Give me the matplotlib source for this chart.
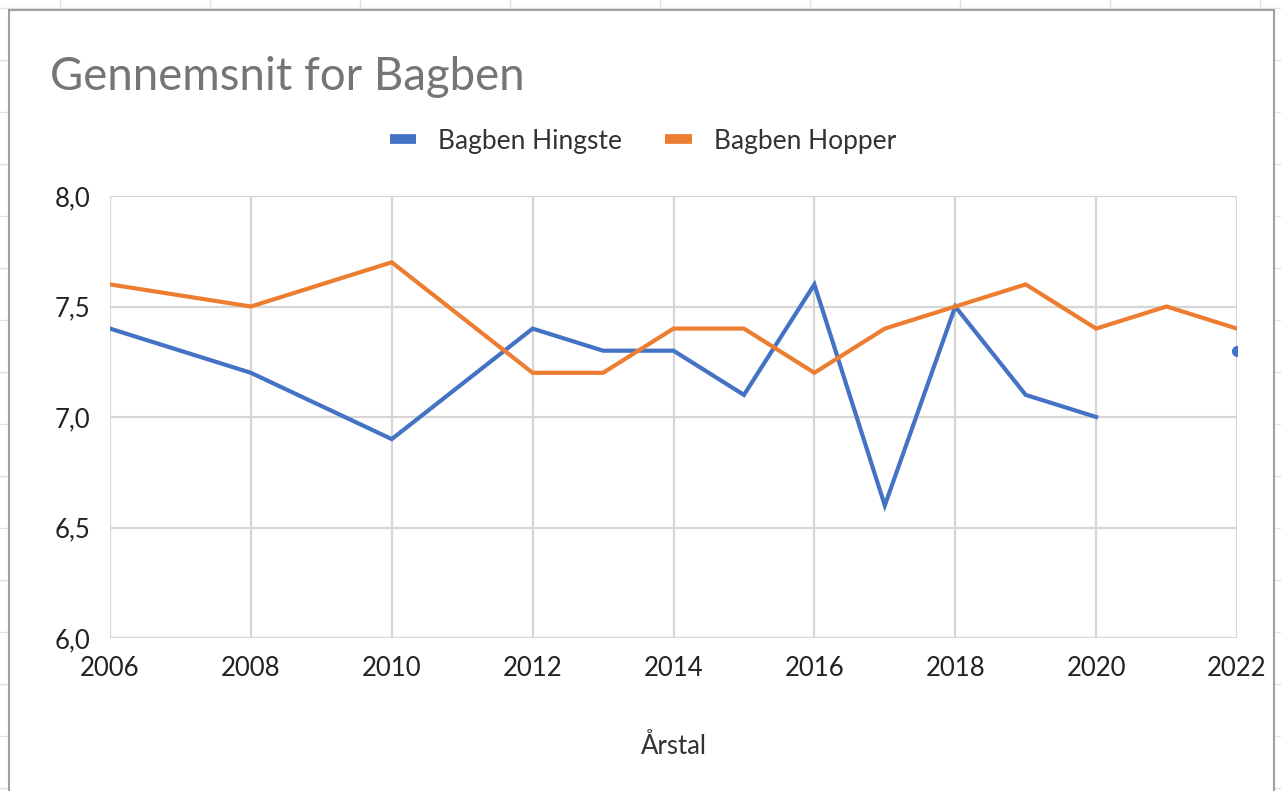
import numpy as np
import matplotlib
matplotlib.use('Agg')
import matplotlib.pyplot as plt
from matplotlib.lines import Line2D
from matplotlib.patches import Rectangle
from matplotlib.ticker import FuncFormatter

plt.rcParams['font.family'] = ['Lato', 'DejaVu Sans']

# data
years = [2006, 2008, 2010, 2012, 2013, 2014, 2015, 2016, 2017, 2018, 2019, 2020, 2021, 2022]
hingste = [7.4, 7.2, 6.9, 7.4, 7.3, 7.3, 7.1, 7.6, 6.6, 7.5, 7.1, 7.0, np.nan, 7.3]
hopper = [7.6, 7.5, 7.7, 7.2, 7.2, 7.4, 7.4, 7.2, 7.4, 7.5, 7.6, 7.4, 7.5, 7.4]
x_ticks = list(range(2006, 2023, 2))
y_ticks = [6.0, 6.5, 7.0, 7.5, 8.0]

W, H = 1281, 791
fig = plt.figure(figsize=(W / 100, H / 100), dpi=100)

# spreadsheet cells behind the chart
cell = '#e2e2e2'
for px in range(60, W, 150):
    fig.add_artist(Line2D([px / W, px / W], [0, 1], color=cell, lw=1, zorder=0))
for py in range(8, H, 52):
    fig.add_artist(Line2D([0, 1], [1 - py / H, 1 - py / H], color=cell, lw=1, zorder=0))

# chart box
fig.add_artist(Rectangle((9 / W, -0.05), (1274 - 9) / W, 1.05 - 10 / H,
                         transform=fig.transFigure, facecolor='white',
                         edgecolor='#a0a0a0', lw=1.5, zorder=1))

ax = fig.add_axes([110 / W, 1 - 638 / H, (1237 - 110) / W, (638 - 196) / H], zorder=2)
ax.set_facecolor('none')

blue = '#4472c4'
orange = '#ed7d31'
ax.plot(years, hingste, color=blue, lw=3, solid_joinstyle='miter', label='Bagben Hingste')
ax.plot(years, hopper, color=orange, lw=3, solid_joinstyle='miter', label='Bagben Hopper')

# isolated points (no neighbours) get a dot, as in the sheet
for i, v in enumerate(hingste):
    prev_nan = i == 0 or np.isnan(hingste[i - 1])
    next_nan = i == len(hingste) - 1 or np.isnan(hingste[i + 1])
    if not np.isnan(v) and prev_nan and next_nan:
        ax.plot([years[i]], [v], 'o', color=blue, ms=7)

ax.set_xlim(2006, 2022)
ax.set_ylim(6, 8)
ax.set_xticks(x_ticks)
ax.set_yticks(y_ticks)
ax.yaxis.set_major_formatter(FuncFormatter(lambda v, p: f'{v:.1f}'.replace('.', ',')))
ax.grid(True, color='#d6d6d6', lw=1.6)
ax.set_axisbelow(True)
for s in ax.spines.values():
    s.set_visible(False)
ax.tick_params(length=0, labelsize=18.5, colors='#222222')
ax.tick_params(axis='x', pad=13)
ax.tick_params(axis='y', pad=14)
ax.set_xlabel('Årstal', fontsize=18.5, color='#333333', labelpad=38)

fig.text(50 / W, 1 - 90 / H, 'Gennemsnit for Bagben', fontsize=32.8, color='#757575',
         ha='left', va='baseline', zorder=3)

handles = [Line2D([], [], color=blue, lw=7, solid_capstyle='butt'),
           Line2D([], [], color=orange, lw=7, solid_capstyle='butt')]
fig.legend(handles, ['Bagben Hingste', 'Bagben Hopper'], loc='center',
           bbox_to_anchor=(643 / W, 1 - 141 / H), ncol=2, frameon=False,
           fontsize=19, handlelength=1.02, handletextpad=0.83, columnspacing=1.63,
           labelcolor='#333333')

fig.savefig('out.png', dpi=100)
